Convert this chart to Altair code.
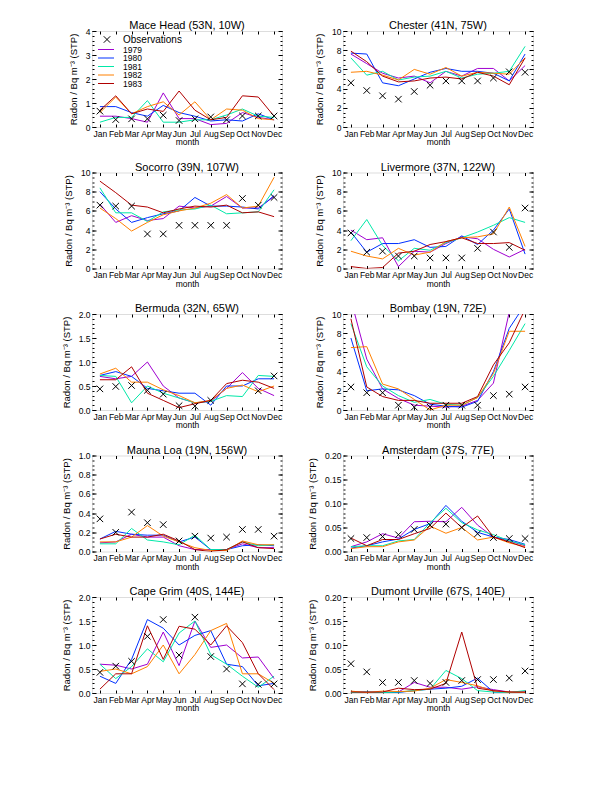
import altair as alt
import pandas as pd

months = ["Jan", "Feb", "Mar", "Apr", "May", "Jun", "Jul", "Aug", "Sep", "Oct", "Nov", "Dec"]
years = ["1979", "1980", "1981", "1982", "1983"]
year_colors = ["#a000d0", "#0030ff", "#00e8a8", "#ff8000", "#b00000"]

mace_head = {
    "obs": [0.66, 0.31, 0.34, 0.34, 0.49, 0.27, 0.34, 0.42, 0.30, 0.46, 0.46, 0.46],
    "1979": [0.45, 0.45, 0.35, 0.20, 1.42, 0.35, 0.35, 0.10, 0.15, 0.60, 0.40, 0.30],
    "1980": [0.85, 0.85, 0.60, 0.45, 0.90, 0.60, 0.45, 0.25, 0.30, 0.25, 0.55, 0.30],
    "1981": [0.20, 0.40, 0.40, 1.10, 0.20, 0.20, 0.30, 0.30, 0.50, 0.75, 0.45, 0.40],
    "1982": [0.60, 1.25, 0.55, 0.85, 1.05, 0.50, 1.05, 0.30, 0.75, 0.70, 0.35, 0.30],
    "1983": [0.70, 1.30, 0.55, 0.75, 0.65, 1.50, 0.70, 0.30, 0.40, 1.30, 1.25, 0.45],
}
chester = {
    "obs": [4.6, 3.8, 3.25, 2.9, 3.7, 4.35, 4.8, 4.8, 4.8, 5.1, 5.75, 5.7],
    "1979": [7.6, 6.6, 5.6, 5.1, 5.3, 4.6, 5.8, 5.3, 6.1, 6.1, 4.8, 6.4],
    "1980": [7.7, 7.6, 4.6, 4.3, 5.0, 5.7, 6.1, 5.8, 5.8, 5.6, 4.8, 7.6],
    "1981": [7.2, 5.4, 5.8, 4.9, 5.2, 5.3, 5.8, 5.1, 5.5, 5.6, 5.8, 8.4],
    "1982": [5.7, 5.8, 5.4, 4.9, 6.0, 5.5, 6.2, 5.3, 5.7, 5.6, 5.5, 7.2],
    "1983": [7.9, 6.8, 5.3, 4.7, 4.8, 5.1, 5.2, 5.0, 5.7, 5.3, 4.4, 7.2],
}
socorro = {
    "obs": [6.6, 6.5, 6.5, 3.6, 3.6, 4.5, 4.5, 4.5, 4.5, 7.3, 6.6, 7.4],
    "1979": [6.7, 4.8, 5.5, 5.0, 5.2, 6.5, 6.3, 6.5, 7.5, 6.3, 6.3, 7.5],
    "1980": [8.0, 6.2, 4.8, 5.3, 5.7, 6.0, 7.4, 6.5, 6.5, 6.4, 6.2, 7.6],
    "1981": [8.4, 5.8, 5.8, 4.9, 5.9, 6.1, 6.2, 6.6, 5.7, 5.8, 5.9, 8.2],
    "1982": [6.3, 5.2, 3.9, 4.8, 5.6, 6.0, 6.3, 6.8, 7.7, 6.3, 6.5, 9.5],
    "1983": [9.1, 7.9, 6.6, 6.4, 5.8, 6.2, 6.5, 6.4, 6.6, 5.8, 5.9, 5.4],
}
livermore = {
    "obs": [3.7, 1.7, 1.8, 1.3, 1.3, 1.1, 1.1, 1.1, 2.1, 3.8, 2.2, 6.3],
    "1979": [4.0, 3.0, 3.2, 0.2, 1.8, 1.7, 2.6, 3.3, 3.1, 2.0, 1.2, 2.0],
    "1980": [3.8, 1.7, 2.6, 2.6, 3.0, 2.2, 2.3, 3.4, 2.5, 4.0, 6.2, 1.5],
    "1981": [2.9, 5.1, 2.4, 0.8, 2.1, 1.9, 2.7, 3.2, 3.8, 4.5, 5.3, 4.8],
    "1982": [1.8, 1.3, 1.0, 2.1, 1.4, 1.7, 2.8, 3.2, 3.3, 3.6, 6.4, 2.3],
    "1983": [0.2, 0.0, 0.1, 1.6, 1.8, 2.5, 2.8, 3.2, 2.6, 2.6, 2.7, 1.9],
}
bermuda = {
    "obs": [0.44, 0.49, 0.51, 0.41, 0.33, 0.09, 0.08, 0.20, None, None, 0.40, 0.71],
    "1979": [0.70, 0.65, 0.70, 1.00, 0.50, 0.25, 0.15, 0.18, 0.45, 0.78, 0.45, 0.30],
    "1980": [0.72, 0.80, 0.70, 0.45, 0.40, 0.35, 0.35, 0.10, 0.50, 0.50, 0.65, 0.65],
    "1981": [0.72, 0.70, 0.15, 0.50, 0.35, 0.25, 0.15, 0.18, 0.30, 0.28, 0.72, 0.70],
    "1982": [0.75, 0.87, 0.58, 0.58, 0.42, 0.30, 0.15, 0.20, 0.45, 0.52, 0.38, 0.50],
    "1983": [0.63, 0.63, 0.90, 0.35, 0.20, 0.05, 0.13, 0.20, 0.55, 0.62, 0.58, 0.45],
}
bombay = {
    "obs": [2.4, 1.8, 1.8, 0.5, 0.3, 0.3, 0.5, 0.5, 0.5, 1.5, 1.65, 2.4],
    "1979": [11.5, 5.3, 2.2, 1.2, 0.5, 0.4, 0.3, 0.4, 1.0, 2.8, 10.2, 12.0],
    "1980": [7.5, 2.0, 2.2, 2.1, 1.5, 0.6, 0.4, 0.3, 0.9, 4.0, 8.5, 11.0],
    "1981": [9.0, 4.5, 2.5, 1.5, 0.8, 1.1, 0.6, 0.5, 1.3, 3.5, 6.2, 9.0],
    "1982": [6.5, 6.6, 2.7, 2.2, 1.1, 0.0, 0.5, 0.5, 1.3, 3.8, 8.2, 8.2],
    "1983": [9.5, 2.4, 1.4, 1.0, 1.0, 0.7, 0.7, 0.7, 1.4, 4.7, 7.0, 10.5],
}
mauna_loa = {
    "obs": [0.34, 0.20, 0.41, 0.30, 0.28, 0.11, 0.16, 0.14, 0.15, 0.23, 0.23, 0.16],
    "1979": [0.09, 0.10, 0.18, 0.15, 0.15, 0.06, 0.02, 0.02, 0.02, 0.08, 0.04, 0.04],
    "1980": [0.13, 0.21, 0.18, 0.17, 0.17, 0.10, 0.15, 0.02, 0.02, 0.06, 0.07, 0.06],
    "1981": [0.08, 0.08, 0.24, 0.12, 0.10, 0.07, 0.17, 0.02, 0.02, 0.10, 0.06, 0.07],
    "1982": [0.10, 0.10, 0.15, 0.27, 0.16, 0.10, 0.04, 0.01, 0.01, 0.11, 0.07, 0.07],
    "1983": [0.13, 0.18, 0.15, 0.15, 0.18, 0.11, 0.02, 0.00, 0.02, 0.10, 0.04, 0.03],
}
amsterdam = {
    "obs": [0.027, 0.029, 0.031, 0.035, 0.046, 0.055, 0.057, 0.050, 0.037, 0.029, 0.027, 0.027],
    "1979": [0.010, 0.020, 0.037, 0.028, 0.062, 0.063, 0.062, 0.092, 0.055, 0.030, 0.022, 0.012],
    "1980": [0.007, 0.012, 0.020, 0.026, 0.046, 0.058, 0.096, 0.063, 0.040, 0.030, 0.025, 0.015],
    "1981": [0.010, 0.012, 0.012, 0.022, 0.025, 0.060, 0.090, 0.060, 0.045, 0.035, 0.022, 0.014],
    "1982": [0.006, 0.010, 0.010, 0.020, 0.024, 0.053, 0.038, 0.050, 0.024, 0.030, 0.018, 0.010],
    "1983": [0.028, 0.012, 0.025, 0.025, 0.037, 0.048, 0.080, 0.050, 0.074, 0.030, 0.020, 0.008],
}
cape_grim = {
    "obs": [0.43, 0.56, 0.66, 1.18, 1.53, 0.79, 1.58, 0.76, 0.50, 0.19, 0.18, 0.19],
    "1979": [0.60, 0.58, 0.50, 0.60, 1.27, 0.57, 1.50, 0.95, 1.00, 0.73, 0.75, 0.30],
    "1980": [0.35, 0.20, 0.70, 1.53, 1.35, 1.00, 1.20, 1.30, 0.60, 0.55, 0.15, 0.20],
    "1981": [0.60, 0.30, 0.55, 0.92, 0.65, 1.25, 1.50, 0.80, 0.60, 0.35, 0.12, 0.35],
    "1982": [0.45, 0.50, 0.40, 0.55, 1.00, 0.40, 0.80, 1.30, 1.45, 0.40, 0.40, 0.20],
    "1983": [0.08, 0.40, 0.40, 1.40, 0.70, 1.39, 1.33, 1.00, 1.40, 1.05, 0.40, 0.07],
}
dumont_urville = {
    "obs": [0.061, 0.044, 0.022, 0.022, 0.026, 0.020, 0.022, 0.026, 0.028, 0.028, 0.031, 0.046],
    "1979": [0.002, 0.001, 0.001, 0.002, 0.022, 0.012, 0.012, 0.008, 0.013, 0.007, 0.002, 0.002],
    "1980": [0.001, 0.002, 0.001, 0.001, 0.005, 0.008, 0.010, 0.014, 0.031, 0.002, 0.001, 0.001],
    "1981": [0.001, 0.002, 0.001, 0.002, 0.005, 0.008, 0.047, 0.030, 0.005, 0.002, 0.001, 0.005],
    "1982": [0.004, 0.001, 0.004, 0.003, 0.004, 0.010, 0.028, 0.022, 0.015, 0.004, 0.002, 0.001],
    "1983": [0.002, 0.002, 0.002, 0.010, 0.007, 0.008, 0.020, 0.127, 0.010, 0.005, 0.002, 0.002],
}

# title, data, y max, major step, minor step, label format
stations = [
    ("Mace Head (53N, 10W)", mace_head, 4, 1, 0.2, "d"),
    ("Chester (41N, 75W)", chester, 10, 2, 0.5, "d"),
    ("Socorro (39N, 107W)", socorro, 10, 2, 0.5, "d"),
    ("Livermore (37N, 122W)", livermore, 10, 2, 0.5, "d"),
    ("Bermuda (32N, 65W)", bermuda, 2.0, 0.5, 0.1, ".1f"),
    ("Bombay (19N, 72E)", bombay, 10, 2, 0.5, "d"),
    ("Mauna Loa (19N, 156W)", mauna_loa, 1.0, 0.2, 0.05, ".1f"),
    ("Amsterdam (37S, 77E)", amsterdam, 0.20, 0.05, 0.01, ".2f"),
    ("Cape Grim (40S, 144E)", cape_grim, 2.0, 0.5, 0.1, ".1f"),
    ("Dumont Urville (67S, 140E)", dumont_urville, 0.20, 0.05, 0.01, ".2f"),
]
legend_labels = ["Observations"] + years

FONT = "Liberation Sans"
XPATH = "M-1,-1L1,1M-1,1L1,-1"
W, H = 190, 96
label_expr = "[" + ",".join("'%s'" % m for m in months) + "][round(datum.value) - 1]"
color_scale = alt.Scale(domain=years, range=year_colors)


def ticks(ymax, step):
    n = int(round(ymax / step))
    return [round(i * step, 4) for i in range(n + 1)]


def y_axis(values, orient, size, labels=False, fmt=None, title=None):
    kw = dict(values=values, orient=orient, domain=False, grid=False, tickSize=size,
              offset=-size, tickColor="black", tickWidth=1, labels=labels)
    if labels:
        kw.update(format=fmt, labelFont=FONT, labelFontSize=8.5, labelColor="black",
                  labelPadding=2, labelFlush=False, labelOverlap=False)
    if title:
        kw.update(title=title, titleFont=FONT, titleFontSize=9.5, titleFontWeight="normal",
                  titleColor="black", titlePadding=7)
    else:
        kw.update(title=None)
    return alt.Axis(**kw)


def x_axis(orient, labels):
    kw = dict(values=list(range(1, 13)), orient=orient, domain=False, grid=False,
              tickSize=3, offset=-3, tickColor="black", tickWidth=1, labels=labels)
    if labels:
        kw.update(labelExpr=label_expr, labelFont=FONT, labelFontSize=8.5, labelColor="black",
                  labelPadding=2, labelAngle=0, labelFlush=False, labelOverlap=False,
                  title="month", titleFont=FONT, titleFontSize=8.5, titleFontWeight="normal",
                  titleColor="black", titlePadding=0)
    else:
        kw.update(title=None)
    return alt.Axis(**kw)


def panel(title, data, ymax, step, minor, fmt, with_legend=False):
    rows = []
    for yr in years:
        for m, v in enumerate(data[yr], 1):
            rows.append({"month": m, "value": v, "year": yr})
    lines_df = pd.DataFrame(rows)
    obs_df = pd.DataFrame({"month": list(range(1, 13)), "value": data["obs"]}).dropna()

    xs = alt.Scale(domain=[0.5, 12.5], nice=False, zero=False)
    ys = alt.Scale(domain=[0, ymax], nice=False, zero=False)
    major = ticks(ymax, step)
    minors = ticks(ymax, minor)

    lines = alt.Chart(lines_df).mark_line(strokeWidth=1, clip=True).encode(
        x=alt.X("month:Q", scale=xs, axis=x_axis("bottom", True)),
        y=alt.Y("value:Q", scale=ys,
                axis=y_axis(major, "left", 4, labels=True, fmt=fmt,
                            title="Radon / Bq m⁻³ (STP)")),
        color=alt.Color("year:N", scale=color_scale, legend=None),
    )
    obs = alt.Chart(obs_df).mark_point(shape=XPATH, size=42, strokeWidth=1, color="black",
                                       filled=False, opacity=1).encode(
        x=alt.X("month:Q", scale=xs, axis=x_axis("top", False)),
        y=alt.Y("value:Q", scale=ys, axis=y_axis(major, "right", 4)),
    )
    lminor = alt.Chart(lines_df).mark_line(opacity=0, clip=True).encode(
        x=alt.X("month:Q", scale=xs, axis=None),
        y=alt.Y("value:Q", scale=ys, axis=y_axis(minors, "left", 2)),
    )
    rminor = alt.Chart(lines_df).mark_line(opacity=0, clip=True).encode(
        x=alt.X("month:Q", scale=xs, axis=None),
        y=alt.Y("value:Q", scale=ys, axis=y_axis(minors, "right", 2)),
    )
    layers = [lminor, rminor, lines, obs]
    if with_legend:
        leg_df = pd.DataFrame({"year": legend_labels, "row": list(range(len(legend_labels)))})
        base = alt.Chart(leg_df).transform_calculate(
            ypx="datum.row == 0 ? 8.5 : 10 + datum.row * 8.5",
            fs="datum.row == 0 ? 10 : 8.5")
        ltext = base.mark_text(align="left", baseline="middle", font=FONT,
                               color="black").encode(
            x=alt.value(31), y=alt.Y("ypx:Q", scale=None), text="year:N",
            size=alt.Size("fs:Q", scale=None, legend=None))
        lsym = base.transform_filter("datum.row == 0").mark_point(
            shape=XPATH, size=42, strokeWidth=1, color="black", filled=False, opacity=1).encode(
            x=alt.value(15), y=alt.Y("ypx:Q", scale=None))
        lrule = base.transform_filter("datum.row > 0").mark_rule(strokeWidth=1).encode(
            x=alt.value(6), x2=alt.value(22), y=alt.Y("ypx:Q", scale=None),
            color=alt.Color("year:N", scale=color_scale, legend=None))
        layers += [lrule, lsym, ltext]

    return alt.layer(*layers).resolve_axis(x="independent", y="independent").properties(
        width=W, height=H,
        title=alt.TitleParams(title, font=FONT, fontSize=11, fontWeight="normal",
                              color="black", offset=2, dy=6, anchor="middle", frame="group"),
    )


panels = [panel(*s, with_legend=(i == 0)) for i, s in enumerate(stations)]

chart = alt.concat(*panels, columns=2, spacing={"row": 45.5, "column": 61},
                   bounds="flush").configure_view(
    stroke="black", strokeWidth=1
).properties(
    padding={"left": 52, "top": 11, "right": 5, "bottom": 5}
).configure(font=FONT)

chart.save("out.html", embed_options={"renderer": "svg", "actions": False})
